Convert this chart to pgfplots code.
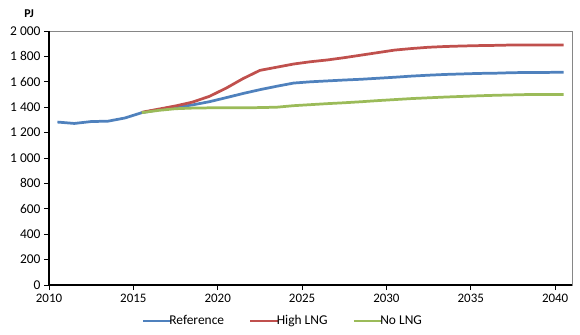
\documentclass[border=0pt]{standalone}
\usepackage{fontspec}
\setmainfont{Carlito}
\usepackage{pgfplots}
\pgfplotsset{compat=1.18}
\definecolor{refcol}{HTML}{4F81BD}
\definecolor{highcol}{HTML}{C0504D}
\definecolor{nocol}{HTML}{9BBB59}
\definecolor{framegray}{HTML}{868686}

% x positions are year + 0.5 (Excel-style category centres)
\pgfplotstableread{
x y
2010.5 1283
2011.5 1272
2012.5 1287
2013.5 1290
2014.5 1315
2015.5 1357
2016.5 1380
2017.5 1398
2018.5 1418
2019.5 1443
2020.5 1475
2021.5 1508
2022.5 1538
2023.5 1565
2024.5 1590
2025.5 1600
2026.5 1607
2027.5 1614
2028.5 1620
2029.5 1628
2030.5 1636
2031.5 1645
2032.5 1652
2033.5 1658
2034.5 1662
2035.5 1666
2036.5 1668
2037.5 1672
2038.5 1673
2039.5 1674
2040.5 1675
}\reftable
\pgfplotstableread{
x y
2015.5 1360
2016.5 1385
2017.5 1410
2018.5 1440
2019.5 1485
2020.5 1550
2021.5 1625
2022.5 1690
2023.5 1715
2024.5 1740
2025.5 1758
2026.5 1772
2027.5 1790
2028.5 1810
2029.5 1830
2030.5 1850
2031.5 1862
2032.5 1872
2033.5 1878
2034.5 1882
2035.5 1885
2036.5 1887
2037.5 1890
2038.5 1890
2039.5 1890
2040.5 1890
}\hightable
\pgfplotstableread{
x y
2015.5 1357
2016.5 1375
2017.5 1388
2018.5 1393
2019.5 1395
2020.5 1395
2021.5 1395
2022.5 1397
2023.5 1400
2024.5 1412
2025.5 1420
2026.5 1428
2027.5 1435
2028.5 1443
2029.5 1452
2030.5 1460
2031.5 1468
2032.5 1474
2033.5 1480
2034.5 1485
2035.5 1490
2036.5 1494
2037.5 1497
2038.5 1500
2039.5 1500
2040.5 1500
}\notable

\begin{document}
\fontsize{13}{15}\selectfont
\begin{tikzpicture}
\begin{axis}[
  name=ax,
  scale only axis,
  width=523bp, height=254bp,
  xmin=2010, xmax=2041,
  ymin=0, ymax=2000,
  xtick={2010,2015,...,2040},
  ytick={0,200,...,2000},
  tick align=outside, tick pos=left,
  major tick length=5bp,
  tick style={black, line width=0.8pt},
  axis line style={draw=framegray, line width=0.6pt},
  /pgf/number format/assume math mode=true,
  yticklabel style={font=\fontsize{13.5}{15}\selectfont, /pgf/number format/1000 sep={\ }, xshift=1bp},
  xticklabel style={font=\fontsize{13}{15}\selectfont, /pgf/number format/1000 sep={}},
  legend style={draw=none, fill=none, at={(0.447,-0.142)}, anchor=center,
    legend columns=-1, font=\fontsize{13.5}{15}\selectfont,
    /tikz/every even column/.append style={column sep=23bp}},
  legend image code/.code={\draw[#1] (0bp,0bp) -- (28bp,0bp);},
  clip=false,
]
\addplot[refcol, line width=2.75pt, line join=round] table {\reftable};
\addlegendentry{\hspace{-5bp}Reference}
\addplot[highcol, line width=2.75pt, line join=round] table {\hightable};
\addlegendentry{\hspace{-5bp}High LNG}
\addplot[nocol, line width=2.75pt, line join=round] table {\notable};
\addlegendentry{\hspace{-5bp}No LNG}
\draw[black, line width=1.3pt] (rel axis cs:0,1) -- (rel axis cs:0,0) -- (rel axis cs:1,0);
\node[font=\fontsize{12}{14}\selectfont\bfseries] at (rel axis cs:-0.038,1.067) {PJ};
\coordinate (bl) at (rel axis cs:0,0);
\end{axis}
\pgfresetboundingbox
\path[use as bounding box] ([shift={(-49bp,-50bp)}]bl) rectangle ([shift={(531bp,285bp)}]bl);
\end{tikzpicture}
\end{document}
